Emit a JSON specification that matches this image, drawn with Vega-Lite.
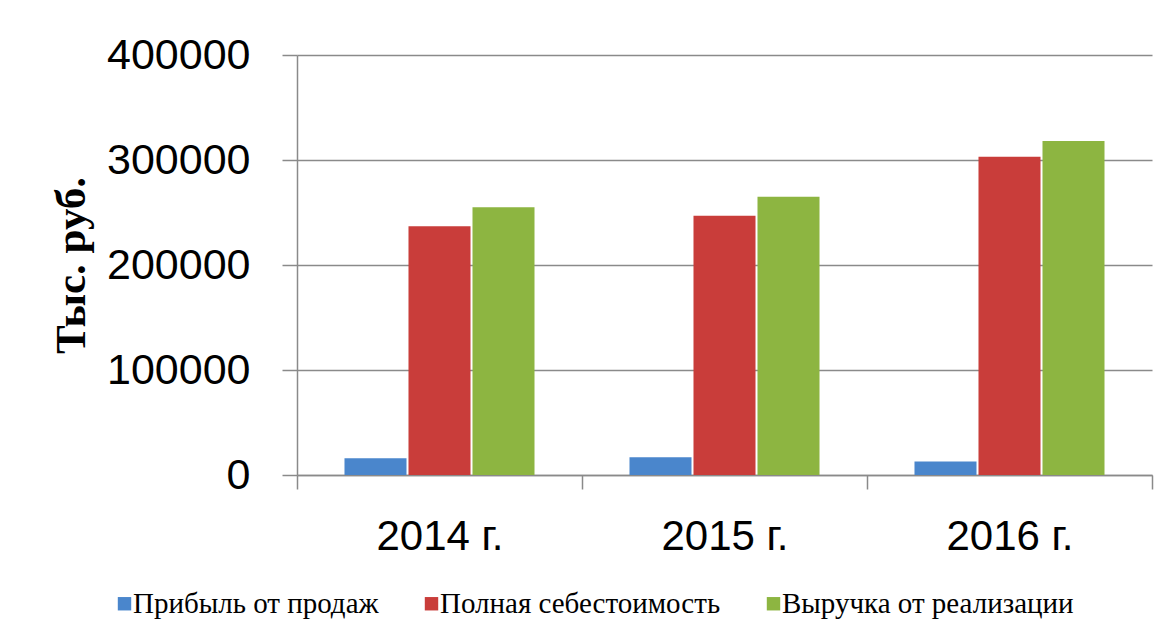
{
  "$schema": "https://vega.github.io/schema/vega-lite/v6.json",
  "autosize": "none",
  "width": 855,
  "height": 420,
  "padding": {"left": 297, "top": 55, "right": 19, "bottom": 162},
  "background": "white",
  "config": {
    "view": {"stroke": null},
    "axis": {"domainColor": "#8a8a8a", "tickColor": "#8a8a8a", "gridColor": "#8a8a8a", "domainWidth": 1.5, "tickWidth": 1.5, "gridWidth": 1.5}
  },
  "data": {
    "values": [
      {"year": "2014 г.", "series": "Прибыль от продаж", "value": 16000},
      {"year": "2014 г.", "series": "Полная себестоимость", "value": 237000},
      {"year": "2014 г.", "series": "Выручка от реализации", "value": 255000},
      {"year": "2015 г.", "series": "Прибыль от продаж", "value": 17000},
      {"year": "2015 г.", "series": "Полная себестоимость", "value": 247000},
      {"year": "2015 г.", "series": "Выручка от реализации", "value": 265000},
      {"year": "2016 г.", "series": "Прибыль от продаж", "value": 12800},
      {"year": "2016 г.", "series": "Полная себестоимость", "value": 303000},
      {"year": "2016 г.", "series": "Выручка от реализации", "value": 318000}
    ]
  },
  "mark": {"type": "bar"},
  "encoding": {
    "x": {
      "field": "year", "type": "nominal",
      "scale": {"paddingInner": 0, "paddingOuter": 0},
      "axis": {
        "title": null, "labelAngle": 0, "tickBand": "extent", "tickSize": 14,
        "labelFont": "Liberation Sans", "labelFontSize": 42, "labelColor": "#000",
        "labelPadding": 27, "grid": false
      }
    },
    "xOffset": {
      "field": "series", "type": "nominal",
      "sort": ["Прибыль от продаж", "Полная себестоимость", "Выручка от реализации"],
      "scale": {"paddingInner": 0.031, "paddingOuter": 0.742}
    },
    "y": {
      "field": "value", "type": "quantitative",
      "scale": {"domain": [0, 400000], "nice": false},
      "axis": {
        "title": "Тыс. руб.", "values": [0, 100000, 200000, 300000, 400000],
        "format": "d", "tickSize": 15, "grid": true,
        "labelFont": "Liberation Sans", "labelFontSize": 43, "labelColor": "#000",
        "labelPadding": 32,
        "titleFont": "Liberation Serif", "titleFontSize": 43, "titleFontWeight": "bold",
        "titleColor": "#000", "titlePadding": 13
      }
    },
    "color": {
      "field": "series", "type": "nominal",
      "sort": ["Прибыль от продаж", "Полная себестоимость", "Выручка от реализации"],
      "scale": {
        "domain": ["Прибыль от продаж", "Полная себестоимость", "Выручка от реализации"],
        "range": ["#4A86CC", "#C93D3A", "#8DB541"]
      },
      "legend": {
        "title": null, "orient": "none", "direction": "horizontal",
        "legendX": -187, "legendY": 534, "labelLimit": 600,
        "symbolType": "square", "symbolSize": 180, "symbolStrokeWidth": 0,
        "labelFont": "Liberation Serif", "labelFontSize": 29, "labelColor": "#000",
        "labelOffset": -6, "columnPadding": 38
      }
    }
  }
}
